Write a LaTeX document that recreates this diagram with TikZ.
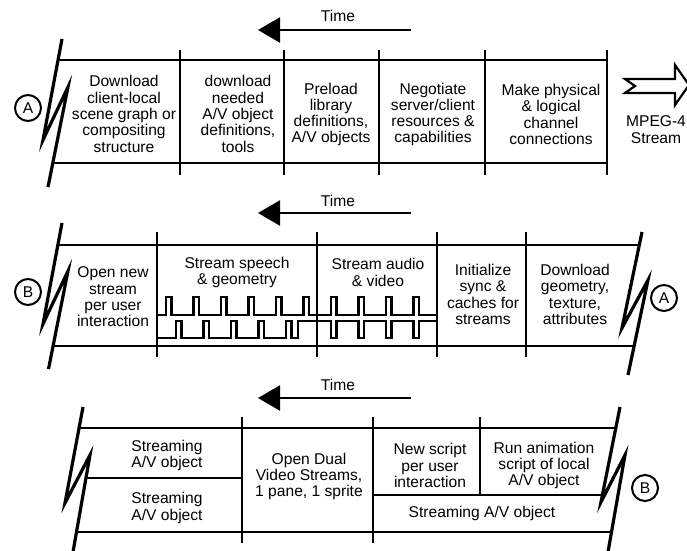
\documentclass[tikz,border=0pt]{standalone}
\usepackage{fontspec}
\setmainfont{Liberation Sans}
\usetikzlibrary{arrows.meta}
\begin{document}
\begin{tikzpicture}[x=1pt,y=-1pt,line join=miter]
\useasboundingbox (0,0) rectangle (687,550);
\tikzset{
  frame/.style={line width=2.4pt},
  brk/.style={line width=3.2pt},
  lbl/.style={font=\fontsize{15.6}{16.3}\selectfont, align=center, inner sep=0pt},
  timearrow/.style={line width=2.3pt, -{Triangle[length=22pt,width=25pt]}},
  tag/.style={circle, draw, line width=2pt, minimum size=26pt, inner sep=0pt, font=\fontsize{15.6}{16}\selectfont},
  wave/.style={line width=2.3pt},
  blockarrow/.style={line width=2.2pt, fill=white},
}

% ================= Panel 1 =================
\node[lbl] (time1) at (338,16) {Time};
\coordinate (t1s) at (411,30);
\coordinate (t1e) at (258,30);
\draw[timearrow] (t1s) -- (t1e);

\draw[brk] (62,39) -- (43,140) -- (68,87) -- (48,187);
\node[tag] (A1) at (28,108) {A};

\draw[frame] (58,60) -- (607,60);
\draw[frame] (52.8,163) -- (607,163);
\foreach \x in {180,284,379,485,607} \draw[frame] (\x,50) -- (\x,175);

\node[lbl] (p1c1) at (124,114) {Download\\client-local\\scene graph or\\compositing\\structure};
\node[lbl] (p1c2) at (238,114) {download\\needed\\A/V object\\definitions,\\tools};
\node[lbl] (p1c3) at (331,114.5) {Preload\\library\\definitions,\\A/V objects};
\node[lbl] (p1c4) at (433,114.5) {Negotiate\\server/client\\resources \&\\capabilities};
\node[lbl] (p1c5) at (551,114.5) {Make physical\\\& logical\\channel\\connections};

\draw[blockarrow] (625,79) -- (675,79) -- (675,65) -- (689,85) -- (675,105) -- (675,93) -- (625,93) -- (635,86) -- cycle;
\node[lbl] (mpeg) at (656,129.5) {MPEG-4\\Stream};

% ================= Panel 2 =================
\node[lbl] (time2) at (338,201) {Time};
\coordinate (t2s) at (411,213);
\coordinate (t2e) at (258,213);
\draw[timearrow] (t2s) -- (t2e);

\draw[brk] (62,223) -- (43,324) -- (68,271) -- (48.5,369);
\node[tag] (B1) at (28,292) {B};
\draw[brk] (642,232) -- (622,328) -- (648,280) -- (628,375);
\node[tag] (A2) at (664,298) {A};

\draw[frame] (57.9,245) -- (639.3,245);
\draw[frame] (53,346) -- (634,346);
\foreach \x in {157,317,437,526} \draw[frame] (\x,232) -- (\x,357);

\node[lbl] (p2c1) at (113,297) {Open new\\stream\\per user\\interaction};
\node[lbl] (p2c2) at (237,272.5) {Stream speech\\\& geometry};
\node[lbl] (p2c3) at (378,272.5) {Stream audio\\\& video};
\node[lbl] (p2c4) at (483,294.5) {Initialize\\sync \&\\caches for\\streams};
\node[lbl] (p2c5) at (575,294.5) {Download\\geometry,\\texture,\\attributes};

% signal waves
\draw[wave] (157,315)
  \foreach \p in {166,193.5,221,248.5,276,303.5,331,358.5,386,413.5}
    { -- (\p,315) -- (\p,297) -- (\p+5.5,297) -- (\p+5.5,315) }
  -- (437,315);
\draw[wave] (157,338)
  \foreach \p in {176,203.5,231,258.5,286}
    { -- (\p,338) -- (\p,321) -- (\p+5.5,321) -- (\p+5.5,338) }
  -- (298,338) -- (298,321)
  \foreach \p in {331,358.5,386,413.5}
    { -- (\p,321) -- (\p,338) -- (\p+5.5,338) -- (\p+5.5,321) }
  -- (437,321);

% ================= Panel 3 =================
\node[lbl] (time3) at (338,385) {Time};
\coordinate (t3s) at (411,398);
\coordinate (t3e) at (258,398);
\draw[timearrow] (t3s) -- (t3e);

\draw[brk] (83,407) -- (65,503) -- (90,455) -- (73,552);
\draw[brk] (620,407) -- (601,502) -- (625,455) -- (608,552);
\node[tag] (B2) at (645,488) {B};

\draw[frame] (79,428) -- (615.8,428);
\draw[frame] (85.9,478) -- (242,478);
\draw[frame] (373,495) -- (602.4,495);
\draw[frame] (76.2,532) -- (611.2,532);
\draw[frame] (242,417) -- (242,543);
\draw[frame] (373,417) -- (373,543);
\draw[frame] (480,417) -- (480,495);

\node[lbl] (p3a) at (167,455.5) {Streaming\\A/V object};
\node[lbl] (p3b) at (167,508) {Streaming\\A/V object};
\node[lbl] (p3c) at (309,476.5) {Open Dual\\Video Streams,\\1 pane, 1 sprite};
\node[lbl] (p3d) at (430,465.5) {New script\\per user\\interaction};
\node[lbl] (p3e) at (544,465.5) {Run animation\\script of local\\A/V object};
\node[lbl] (p3f) at (482,513.5) {Streaming A/V object};
\end{tikzpicture}
\end{document}
